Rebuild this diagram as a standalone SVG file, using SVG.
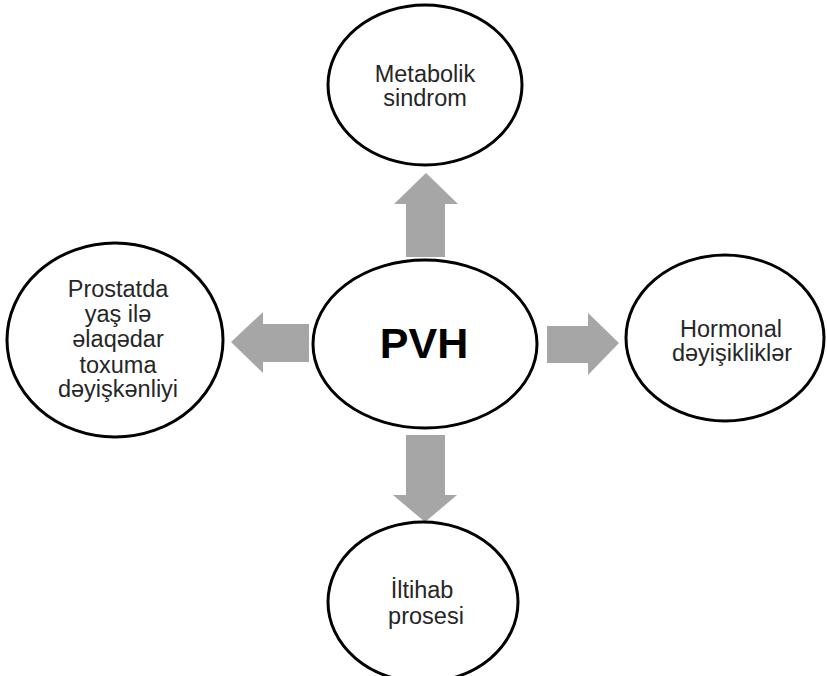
<svg xmlns="http://www.w3.org/2000/svg" width="827" height="676" viewBox="0 0 827 676">
<style>
.node{fill:#fff;stroke:#000;stroke-width:3}
.lbl{font-family:"Liberation Sans",Arial,sans-serif;font-size:23.5px;fill:#262626;text-anchor:middle}
.big{font-family:"Liberation Sans",Arial,sans-serif;font-size:43px;font-weight:bold;fill:#000;text-anchor:middle}
.arr{fill:#a6a6a6}
</style>
<rect width="827" height="676" fill="#fff"/>
<g id="connectors">
<polygon class="arr" points="406,257 445,257 445,204 458,204 426,173 394,204 406,204"/>
<polygon class="arr" points="309,324 309,362 263,362 263,373 231,342 263,312 263,324"/>
<polygon class="arr" points="547,326 547,363 588,363 588,375 619,343 588,313 588,326"/>
<polygon class="arr" points="406,435 445,435 445,495 457,495 425,522 393,495 406,495"/>
</g>
<g id="pvh">
<ellipse class="node" cx="425" cy="344" rx="112" ry="84"/>
<text class="big" x="424" y="358">PVH</text>
</g>
<g id="metabolik">
<ellipse class="node" cx="425" cy="85" rx="97" ry="80"/>
<text class="lbl" x="425" y="82">Metabolik</text>
<text class="lbl" x="425" y="106">sindrom</text>
</g>
<g id="hormonal">
<ellipse class="node" cx="725" cy="338" rx="99" ry="83"/>
<text class="lbl" x="731" y="337">Hormonal</text>
<text class="lbl" x="732" y="361">dəyişikliklər</text>
</g>
<g id="iltihab">
<ellipse class="node" cx="423" cy="602" rx="95" ry="80"/>
<text class="lbl" x="422" y="598">İltihab</text>
<text class="lbl" x="426" y="624">prosesi</text>
</g>
<g id="prostat">
<ellipse class="node" cx="115" cy="340" rx="108" ry="97"/>
<text class="lbl" x="118" y="297">Prostatda</text>
<text class="lbl" x="118" y="322">yaş ilə</text>
<text class="lbl" x="118" y="347">əlaqədar</text>
<text class="lbl" x="118" y="373">toxuma</text>
<text class="lbl" x="118" y="397">dəyişkənliyi</text>
</g>
</svg>
